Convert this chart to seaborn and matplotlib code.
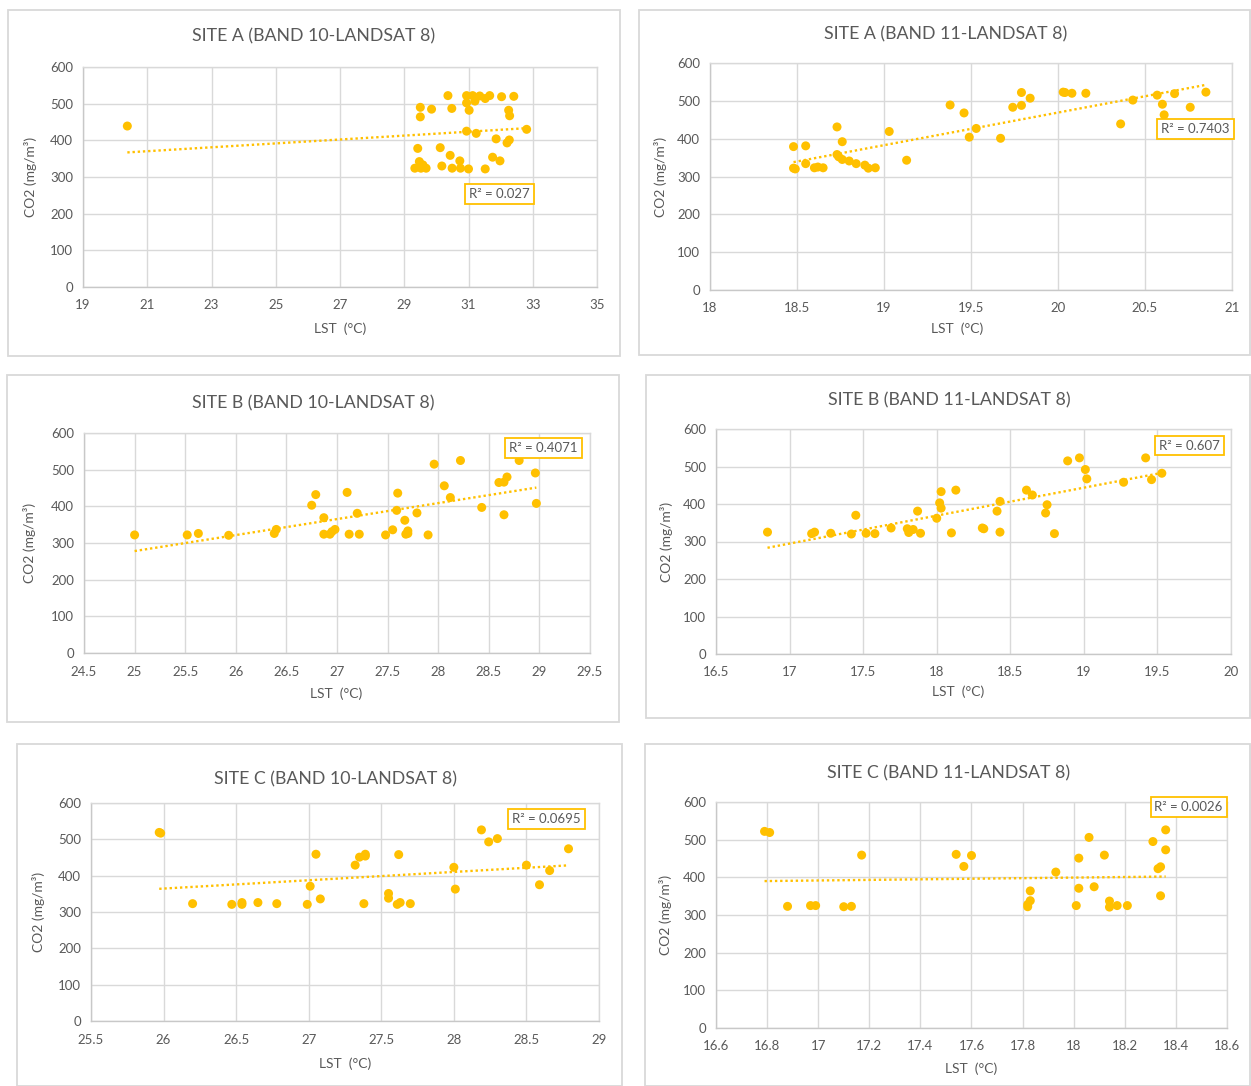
import numpy as np
import pandas as pd
import matplotlib
matplotlib.use("Agg")
import matplotlib.pyplot as plt
import seaborn as sns
from matplotlib.patches import Rectangle
from matplotlib.ticker import FuncFormatter

# ---------------- data ----------------
a10_lst = [20.38, 29.42, 29.5, 29.5, 29.85, 30.36, 30.48, 30.12, 30.43, 30.73,
           30.17, 30.49, 30.75, 31.0, 31.52, 29.47, 29.33, 29.52, 29.68, 29.58,
           30.94, 31.13, 31.35, 31.52, 31.66, 32.03, 32.41, 30.94, 31.2, 31.02,
           32.25, 32.28, 30.94, 31.24, 32.81, 31.86, 32.2, 32.27, 31.75, 31.98]
a10_co2 = [439, 378, 490, 464, 485, 522, 487, 380, 359, 344,
           330, 324, 324, 322, 322, 342, 324, 324, 324, 333,
           522, 522, 521, 514, 522, 519, 520, 502, 507, 482,
           482, 467, 425, 419, 430, 404, 393, 401, 354, 344]

a11_lst = [18.48, 18.55, 18.48, 18.49, 18.55, 18.6, 18.62, 18.65, 18.73, 18.76,
           18.73, 18.74, 18.76, 18.8, 18.84, 18.89, 18.91, 18.95, 19.03, 19.13,
           19.38, 19.46, 19.53, 19.49, 19.67, 19.74, 19.79, 19.79, 19.84, 20.03,
           20.04, 20.08, 20.16, 20.36, 20.43, 20.57, 20.6, 20.61, 20.67, 20.76, 20.85]
a11_co2 = [379, 381, 322, 320, 334, 323, 325, 323, 431, 392,
           358, 352, 345, 341, 334, 330, 322, 323, 419, 343,
           489, 468, 427, 404, 401, 483, 522, 488, 507, 523,
           522, 520, 520, 439, 502, 515, 491, 463, 519, 483, 523]

b10_lst = [25.0, 25.52, 25.63, 25.93, 26.4, 26.38, 26.75, 26.79, 26.87, 26.87,
           26.93, 26.95, 26.98, 27.1, 27.12, 27.2, 27.22, 27.48, 27.55, 27.59,
           27.6, 27.67, 27.68, 27.7, 27.7, 27.79, 27.9, 27.96, 28.06, 28.12,
           28.22, 28.43, 28.6, 28.65, 28.68, 28.65, 28.8, 28.96, 28.97]
b10_co2 = [322, 322, 326, 321, 337, 326, 403, 432, 369, 324,
           324, 331, 337, 438, 324, 381, 324, 322, 336, 389,
           436, 362, 324, 333, 326, 382, 322, 515, 456, 424,
           525, 397, 465, 466, 480, 377, 525, 491, 408]

b11_lst = [16.85, 17.15, 17.17, 17.28, 17.42, 17.45, 17.52, 17.58, 17.69, 17.8,
           17.81, 17.84, 17.87, 17.89, 18.0, 18.02, 18.03, 18.03, 18.1, 18.13,
           18.31, 18.32, 18.41, 18.43, 18.43, 18.61, 18.65, 18.75, 18.74, 18.8,
           18.89, 18.97, 19.01, 19.02, 19.27, 19.42, 19.46, 19.53]
b11_co2 = [325, 321, 325, 322, 320, 370, 322, 321, 336, 334,
           324, 332, 381, 322, 362, 403, 389, 433, 323, 437,
           336, 334, 381, 407, 325, 437, 424, 398, 376, 321,
           515, 523, 492, 467, 458, 523, 465, 482]

c10_lst = [25.97, 25.98, 26.2, 26.47, 26.54, 26.54, 26.65, 26.78, 26.99, 27.01,
           27.05, 27.08, 27.32, 27.35, 27.39, 27.39, 27.38, 27.55, 27.55, 27.62,
           27.61, 27.63, 27.7, 28.0, 28.01, 28.19, 28.24, 28.3, 28.5, 28.59,
           28.66, 28.79]
c10_co2 = [519, 517, 323, 321, 326, 321, 326, 323, 321, 371,
           459, 336, 429, 451, 459, 454, 323, 351, 338, 458,
           321, 326, 323, 423, 363, 526, 493, 502, 429, 375,
           414, 474]

c11_lst = [16.79, 16.81, 16.88, 16.97, 16.99, 17.1, 17.13, 17.17, 17.54, 17.57,
           17.6, 17.82, 17.82, 17.83, 17.83, 17.93, 18.01, 18.02, 18.02, 18.06,
           18.08, 18.12, 18.14, 18.14, 18.17, 18.21, 18.31, 18.33, 18.34, 18.34,
           18.36, 18.36]
c11_co2 = [522, 519, 323, 325, 325, 322, 323, 459, 461, 429,
           458, 322, 328, 338, 364, 414, 325, 451, 371, 506,
           375, 459, 337, 321, 325, 325, 495, 423, 428, 351,
           526, 473]

titles = ["SITE A (BAND 10-LANDSAT 8)", "SITE A (BAND 11-LANDSAT 8)",
          "SITE B (BAND 10-LANDSAT 8)", "SITE B (BAND 11-LANDSAT 8)",
          "SITE C (BAND 10-LANDSAT 8)", "SITE C (BAND 11-LANDSAT 8)"]
r2_labels = ["R² = 0.027", "R² = 0.7403", "R² = 0.4071", "R² = 0.607",
             "R² = 0.0695", "R² = 0.0026"]
x_ranges = [(19, 35, 2), (18, 21, 0.5), (24.5, 29.5, 0.5), (16.5, 20, 0.5),
            (25.5, 29, 0.5), (16.6, 18.6, 0.2)]
y_ticks = [0, 100, 200, 300, 400, 500, 600]
x_label = "LST  (°C)"
y_label = "CO2 (mg/m³)"

series = [(a10_lst, a10_co2), (a11_lst, a11_co2), (b10_lst, b10_co2),
          (b11_lst, b11_co2), (c10_lst, c10_co2), (c11_lst, c11_co2)]

# ---------------- layout (pixels) ----------------
W, H = 1251, 1086
plot_boxes = [(83, 67, 597, 287), (710, 63, 1232, 290), (84, 433, 590, 653),
              (716, 429, 1231, 654), (91, 803, 599, 1021), (716, 802, 1227, 1028)]
frame_boxes = [(8, 10, 620, 356), (639, 10, 1250, 355), (7, 375, 619, 722),
               (646, 375, 1250, 718), (17, 744, 622, 1086), (645, 744, 1250, 1086)]
title_pos = [(314, 36), (946, 34), (313, 403), (949, 400), (335, 779), (949, 773)]
ylabel_x = [-0.09, -0.082, -0.095, -0.083, -0.09, -0.086]
xlabel_pos = [(0.5, -0.163), (0.473, -0.145), (0.498, -0.157), (0.47, -0.142),
              (0.5, -0.166), (0.5, -0.151)]
r2_pos = [(31.96, 253), (20.79, 425), (29.04, 559), (19.72, 556), (28.64, 557), (18.45, 587)]

ORANGE = "#FFC000"
GRID = "#d9d9d9"
TXT = "#595959"

sns.set_theme(style="white")
plt.rcParams['font.family'] = ['Lato', 'DejaVu Sans']

fig = plt.figure(figsize=(W / 100, H / 100), dpi=100)
fig.patch.set_facecolor("white")

fmt = FuncFormatter(lambda v, p: f"{round(v, 3):g}")

for i in range(6):
    x0, y0, x1, y1 = frame_boxes[i]
    fig.add_artist(Rectangle((x0 / W, 1 - y1 / H), (x1 - x0) / W, (y1 - y0) / H,
                             transform=fig.transFigure, fill=False, ec=GRID, lw=1.3))
    l, t, r, b = plot_boxes[i]
    ax = fig.add_axes([l / W, 1 - b / H, (r - l) / W, (b - t) / H])
    df = pd.DataFrame({"LST": series[i][0], "CO2": series[i][1]})
    sns.regplot(data=df, x="LST", y="CO2", ax=ax, ci=None, color=ORANGE,
                scatter_kws=dict(s=42, edgecolor="none", alpha=1, zorder=3),
                line_kws=dict(ls=(0, (1, 1.2)), lw=1.7, zorder=2))
    lo, hi, step = x_ranges[i]
    ax.set_xlim(lo, hi)
    ax.set_ylim(0, 600)
    ax.set_xticks(np.arange(lo, hi + step / 2, step))
    ax.set_yticks(y_ticks)
    ax.xaxis.set_major_formatter(fmt)
    ax.grid(True, color=GRID, lw=1)
    ax.set_axisbelow(True)
    for sp in ax.spines.values():
        sp.set_visible(True)
        sp.set_color(GRID)
        sp.set_linewidth(1)
    ax.spines["left"].set_color("#c8c8c8")
    ax.spines["bottom"].set_color("#c8c8c8")
    ax.tick_params(axis="y", length=0, labelsize=9.5, colors=TXT, pad=7)
    ax.tick_params(axis="x", length=0, labelsize=9.5, colors=TXT, pad=9)
    ax.set_xlabel(x_label, fontsize=10, color=TXT)
    ax.set_ylabel(y_label, fontsize=10, color=TXT)
    ax.xaxis.set_label_coords(*xlabel_pos[i])
    ax.yaxis.set_label_coords(ylabel_x[i], 0.5)
    ax.text(r2_pos[i][0], r2_pos[i][1], r2_labels[i], ha="center", va="center",
            fontsize=9.5, color=TXT, zorder=5,
            bbox=dict(boxstyle="square,pad=0.3", fc="white", ec=ORANGE, lw=1.3))
    tx, ty = title_pos[i]
    fig.text(tx / W, 1 - ty / H, titles[i], ha="center", va="center",
             fontsize=12.8, color=TXT)

fig.savefig("out.png", dpi=100, facecolor="white")
